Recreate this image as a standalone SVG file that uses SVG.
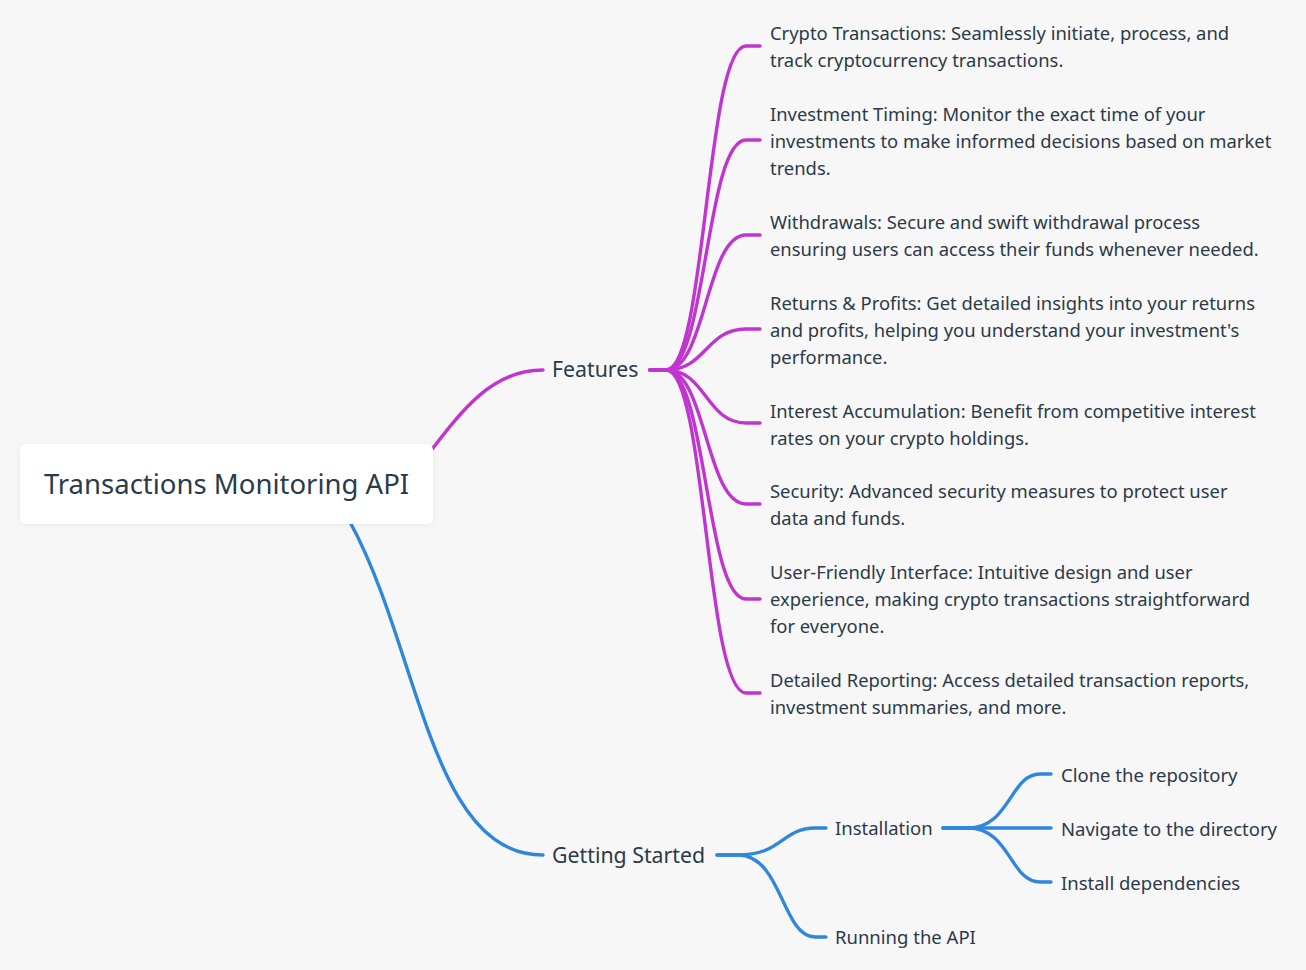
<svg xmlns="http://www.w3.org/2000/svg" width="1306" height="970" viewBox="0 0 1306 970">
<defs>
<filter id="sh" x="-10%" y="-30%" width="120%" height="160%"><feDropShadow dx="0" dy="1" stdDeviation="3" flood-color="#000" flood-opacity="0.06"/></filter>
<style>
.t{font-family:"Noto Sans","Liberation Sans",Arial,sans-serif;fill:#2b3a4a}
.leaf{font-size:18.4px}
.mid{font-size:21.3px}
.sub{font-size:18.5px}
.m{fill:none;stroke:#c035d0;stroke-width:3.4;stroke-linecap:round}
.b{fill:none;stroke:#2e87dc;stroke-width:3.4;stroke-linecap:round}
</style>
</defs>
<rect width="1306" height="970" fill="#f7f7f7"/>
<g id="connectors">
<path class="m" d="M400 490 C450 430,480 370,543 370"/>
<path class="b" d="M350 522 C420 650,430 855,543 855"/>
<path class="m" d="M650 370 H666 C706 370,706 46,746 46 H760"/>
<path class="m" d="M650 370 H666 C706 370,706 140,746 140 H760"/>
<path class="m" d="M650 370 H666 C706 370,706 235,746 235 H760"/>
<path class="m" d="M650 370 H666 C706 370,706 329,746 329 H760"/>
<path class="m" d="M650 370 H666 C706 370,706 423,746 423 H760"/>
<path class="m" d="M650 370 H666 C706 370,706 504,746 504 H760"/>
<path class="m" d="M650 370 H666 C706 370,706 599,746 599 H760"/>
<path class="m" d="M650 370 H666 C706 370,706 693,746 693 H760"/>
<path class="b" d="M717 855 H738 C782 855,782 828,815 828 H826"/>
<path class="b" d="M717 855 H738 C782 855,782 937,815 937 H826"/>
<path class="b" d="M943 828 H968 C1010 828,1010 774,1040 774 H1051"/>
<path class="b" d="M943 828 H1051"/>
<path class="b" d="M943 828 H968 C1010 828,1010 882,1040 882 H1051"/>
</g>
<g id="root">
<rect x="20" y="444" width="413" height="80" rx="6" fill="#fff" filter="url(#sh)"/>
<text class="t" x="226.5" y="494" font-size="27.5" text-anchor="middle">Transactions Monitoring API</text>
</g>
<g id="features"><text class="t mid" x="552" y="377">Features</text></g>
<g id="getting-started"><text class="t mid" x="552" y="863">Getting Started</text></g>
<g id="f1"><text class="t leaf" x="770" y="40">Crypto Transactions: Seamlessly initiate, process, and</text><text class="t leaf" x="770" y="67">track cryptocurrency transactions.</text></g>
<g id="f2"><text class="t leaf" x="770" y="121">Investment Timing: Monitor the exact time of your</text><text class="t leaf" x="770" y="148">investments to make informed decisions based on market</text><text class="t leaf" x="770" y="175">trends.</text></g>
<g id="f3"><text class="t leaf" x="770" y="229">Withdrawals: Secure and swift withdrawal process</text><text class="t leaf" x="770" y="256">ensuring users can access their funds whenever needed.</text></g>
<g id="f4"><text class="t leaf" x="770" y="310">Returns &amp; Profits: Get detailed insights into your returns</text><text class="t leaf" x="770" y="337">and profits, helping you understand your investment's</text><text class="t leaf" x="770" y="364">performance.</text></g>
<g id="f5"><text class="t leaf" x="770" y="418">Interest Accumulation: Benefit from competitive interest</text><text class="t leaf" x="770" y="445">rates on your crypto holdings.</text></g>
<g id="f6"><text class="t leaf" x="770" y="498">Security: Advanced security measures to protect user</text><text class="t leaf" x="770" y="525">data and funds.</text></g>
<g id="f7"><text class="t leaf" x="770" y="579">User-Friendly Interface: Intuitive design and user</text><text class="t leaf" x="770" y="606">experience, making crypto transactions straightforward</text><text class="t leaf" x="770" y="633">for everyone.</text></g>
<g id="f8"><text class="t leaf" x="770" y="687">Detailed Reporting: Access detailed transaction reports,</text><text class="t leaf" x="770" y="714">investment summaries, and more.</text></g>
<g id="installation"><text class="t sub" x="835" y="835">Installation</text></g>
<g id="running"><text class="t sub" x="835" y="944">Running the API</text></g>
<g id="clone"><text class="t sub" x="1061" y="782">Clone the repository</text></g>
<g id="navigate"><text class="t sub" x="1061" y="836">Navigate to the directory</text></g>
<g id="install-deps"><text class="t sub" x="1061" y="890">Install dependencies</text></g>
</svg>
